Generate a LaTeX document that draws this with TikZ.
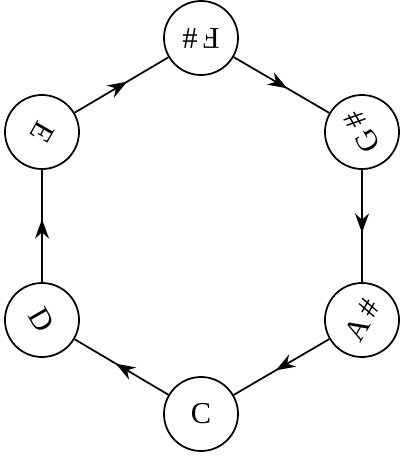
\documentclass[tikz,border=0pt]{standalone}
\usepackage{fontspec}
\setmainfont{Liberation Serif}
\usetikzlibrary{arrows.meta, decorations.markings}

\begin{document}
\begin{tikzpicture}[
		% --- ESTILOS ---
		nota/.style = {draw, circle, line width=1pt, minimum size=1.48cm, inner sep=0pt, font=\LARGE},
		flecha/.style = {line width=1pt, postaction={decorate},
			decoration={markings, mark=at position 0.56 with {\arrow{Stealth[length=11pt, width=8pt]}}}},
		]
		
		% --- MARCO ---
		\useasboundingbox (-4.02,-4.62) rectangle (4.04,4.52);
		
		% --- NOTAS (hexagono) ---
		\node [nota, rotate=180] (fs) at (0,3.76) {F\,\#};
		\node [nota, rotate=120] (gs) at (3.22,1.88) {G\,\#};
		\node [nota, rotate=60] (as) at (3.22,-1.88) {A\,\#};
		\node [nota] (c) at (0,-3.76) {C};
		\node [nota, rotate=-60] (d) at (-3.18,-1.88) {D};
		\node [nota, rotate=-120] (e) at (-3.18,1.88) {E};
		
		% --- CONEXIONES ---
		\draw [flecha] (e) -- (fs);
		\draw [flecha] (fs) -- (gs);
		\draw [flecha] (gs) -- (as);
		\draw [flecha] (as) -- (c);
		\draw [flecha] (c) -- (d);
		\draw [flecha] (d) -- (e);
		
	\end{tikzpicture}
\end{document}
